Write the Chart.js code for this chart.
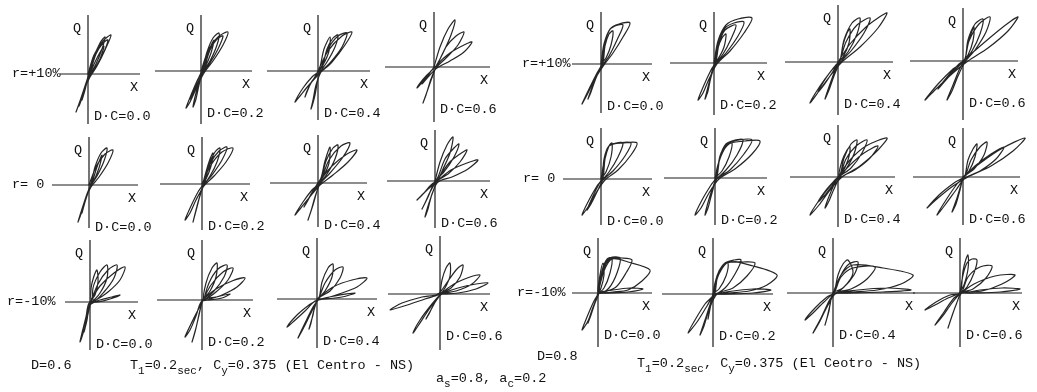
<!DOCTYPE html>
<html lang="en">
<head>
<meta charset="UTF-8">
<title>Hysteresis loops - El Centro NS</title>
<script src="https://cdn.jsdelivr.net/npm/chart.js"></script>
<style>
    * { margin: 0; padding: 0; box-sizing: border-box; }
    body {
        width: 1037px;
        height: 392px;
        overflow: hidden;
        background: #ffffff;
        position: relative;
        font-family: 'Liberation Mono', 'DejaVu Sans Mono', monospace;
        font-size: 13.5px;
        color: #111;
    }
    .panel { position: absolute; }
    .txt { position: absolute; line-height: 13px; white-space: pre; }
    sub { font-size: 11px; vertical-align: -5px; line-height: 0; }
</style>
</head>
<body>
<script>
// labels
const dcLabels = ['D\u00B7C=0.0', 'D\u00B7C=0.2', 'D\u00B7C=0.4', 'D\u00B7C=0.6'];
const rLabels = ['r=+10%', 'r= 0', 'r=-10%'];

// loop paths: [X, Q] pairs (X right, Q up), origin at the axes crossing
// D=0.6, r=+10%
const d06_p10_c0 = [[0,0],[6,19],[15,33],[23,39],[17,24],[9,8],[2,-3],[-4,-16],[-9,-30],[-12,-38],[-8,-27],[-3,-12],[1,0],
    [6,17],[12,31],[17,37],[14,25],[8,10],[2,-1],[-3,-13],[-7,-25],[-9,-32],[-5,-21],[-1,-8],[2,1],
    [8,20],[15,31],[20,34],[15,20],[8,7],[1,-2],[-3,-12],[-6,-26],[-3,-16],[0,-4],[3,3],[10,18],[16,28],[12,15],[5,3],[0,0]];
const d06_p10_c2 = [[0,0],[7,20],[17,34],[27,39],[22,26],[12,10],[3,-2],[-5,-18],[-11,-31],[-15,-37],[-10,-24],[-4,-10],[1,0],
    [6,19],[12,33],[18,38],[16,26],[9,10],[2,-1],[-2,-14],[-5,-28],[-8,-36],[-5,-22],[-1,-8],[3,2],
    [9,21],[16,32],[22,35],[17,22],[9,8],[1,-3],[-5,-16],[-11,-28],[-7,-18],[-2,-6],[2,2],[7,18],[13,31],[10,18],[4,4],[0,0]];
const d06_p10_c4 = [[0,0],[10,20],[24,35],[34,39],[27,26],[14,9],[2,-2],[-9,-14],[-18,-25],[-23,-31],[-15,-17],[-6,-6],[2,1],
    [10,22],[20,35],[29,38],[24,24],[12,8],[3,-1],[-2,-14],[-5,-29],[-7,-38],[-3,-24],[0,-8],[4,2],
    [9,22],[15,33],[20,36],[17,24],[9,9],[1,-2],[-6,-10],[-11,-20],[-13,-26],[-8,-14],[-2,-4],[2,4],[6,22],[12,34],[11,20],[5,6],[0,0]];
const d06_p10_c6 = [[0,0],[6,20],[14,38],[21,47],[17,32],[9,14],[2,1],[-7,-8],[-14,-16],[-17,-21],[-10,-13],[-3,-4],[3,2],
    [12,20],[22,31],[30,35],[24,22],[12,9],[2,-1],[-3,-12],[-8,-28],[-11,-36],[-6,-22],[-1,-8],[4,3],
    [16,14],[30,22],[38,25],[30,15],[16,6],[3,-1],[-6,-10],[-12,-17],[-5,-7],[0,0]];
// D=0.6, r=0
const d06_z_c0 = [[0,0],[7,18],[16,31],[24,35],[19,22],[10,8],[2,-2],[-4,-15],[-8,-29],[-11,-37],[-7,-24],[-2,-9],[2,1],
    [6,18],[12,32],[18,37],[15,24],[8,9],[1,-2],[-3,-13],[-7,-28],[-4,-17],[0,-5],[3,2],[8,18],[13,30],[10,17],[4,3],[0,0]];
const d06_z_c2 = [[0,0],[9,19],[20,32],[31,36],[24,22],[12,8],[2,-2],[-6,-16],[-12,-29],[-17,-36],[-11,-22],[-4,-8],[2,1],
    [8,20],[17,33],[25,37],[20,24],[10,9],[2,-1],[-3,-15],[-7,-30],[-9,-38],[-5,-23],[-1,-8],[3,2],
    [7,19],[13,32],[18,36],[15,22],[8,8],[1,-1],[4,12],[8,25],[11,31],[9,18],[4,5],[0,0]];
const d06_z_c4 = [[0,0],[14,17],[29,29],[39,33],[30,21],[15,8],[2,-2],[-9,-15],[-18,-26],[-23,-32],[-15,-19],[-6,-7],[2,1],
    [11,23],[23,37],[32,40],[25,26],[12,10],[2,-1],[-3,-14],[-7,-28],[-10,-37],[-5,-22],[-1,-8],[3,2],
    [8,22],[15,35],[20,38],[17,24],[9,9],[1,-1],[-6,-10],[-11,-19],[-14,-24],[-8,-13],[-2,-3],[3,5],[7,22],[12,36],[11,20],[5,6],[0,0]];
const d06_z_c6 = [[0,0],[5,19],[12,36],[18,44],[15,28],[8,12],[2,0],[-7,-8],[-14,-15],[-18,-19],[-11,-12],[-4,-4],[3,1],
    [16,11],[32,18],[43,21],[33,12],[17,4],[3,-1],[-3,-13],[-7,-28],[-10,-36],[-6,-22],[-1,-8],[4,3],
    [14,18],[25,27],[32,31],[25,19],[13,7],[2,0],[-5,-11],[-10,-22],[-13,-28],[-7,-16],[-2,-4],[3,4],[10,22],[19,33],[24,37],[19,24],[9,9],[0,0]];
// D=0.6, r=-10%
const d06_m10_c0 = [[0,0],[10,16],[24,29],[35,35],[30,22],[18,10],[6,2],[-1,-1],[-4,-15],[-8,-31],[-10,-40],[-6,-28],[-2,-12],[1,0],
    [8,18],[18,32],[27,37],[24,24],[14,10],[4,1],[3,14],[10,30],[17,37],[17,24],[10,9],[2,1],
    [1,13],[4,26],[7,32],[8,20],[5,7],[0,0],[-3,-14],[-6,-30],[-3,-18],[0,-3],[10,2],[22,5],[30,7],[20,3],[8,0],[0,0]];
const d06_m10_c2 = [[0,0],[14,11],[30,19],[43,22],[35,13],[20,5],[5,0],[-1,-2],[-6,-16],[-12,-30],[-17,-37],[-11,-24],[-4,-10],[1,0],
    [9,15],[21,28],[31,32],[26,20],[14,8],[3,1],[7,17],[16,31],[25,35],[22,23],[12,9],[2,1],
    [4,17],[10,32],[15,37],[14,23],[8,9],[1,0],[-3,-15],[-7,-32],[-10,-42],[-6,-28],[-2,-10],[1,0],[14,3],[28,6],[20,2],[6,0],[0,0]];
const d06_m10_c4 = [[0,0],[16,12],[35,19],[50,21],[40,12],[22,5],[6,0],[-2,-2],[-12,-12],[-24,-23],[-30,-28],[-20,-16],[-8,-6],[1,0],
    [8,16],[18,29],[26,32],[23,21],[13,8],[2,1],[-6,-14],[-14,-30],[-19,-39],[-12,-24],[-4,-8],[2,1],
    [5,17],[11,31],[16,35],[15,22],[8,8],[1,0],[-3,-11],[-6,-24],[-8,-30],[-4,-16],[0,-2],[18,3],[38,6],[25,2],[8,0],[0,0]];
const d06_m10_c6 = [[0,0],[2,14],[6,26],[10,31],[10,18],[5,6],[0,0],[-15,-5],[-36,-12],[-50,-16],[-38,-9],[-18,-3],[-2,0],
    [8,13],[17,25],[23,29],[20,17],[11,6],[1,0],[-10,-14],[-22,-32],[-27,-39],[-20,-26],[-8,-10],[1,0],
    [14,10],[30,17],[40,19],[32,10],[16,3],[2,0],[-6,-10],[-11,-20],[-14,-25],[-8,-14],[-2,-3],[1,0],[18,6],[36,10],[48,11],[36,5],[18,1],[0,0]];

// D=0.8, r=+10%
const d08_p10_c0 = [[0,0],[3,20],[9,35],[18,40],[29,41],[22,27],[12,11],[3,-1],[-6,-15],[-14,-31],[-19,-40],[-12,-25],[-4,-9],[1,0],
    [3,18],[8,33],[14,38],[22,39],[16,24],[8,8],[1,-2],[-5,-14],[-10,-28],[-13,-35],[-8,-21],[-2,-6],[2,1],
    [4,18],[8,30],[12,33],[10,19],[5,6],[0,0]];
const d08_p10_c2 = [[0,0],[4,22],[12,38],[24,44],[38,45],[30,30],[16,12],[3,-1],[-5,-16],[-11,-30],[-16,-37],[-10,-22],[-3,-7],[1,0],
    [4,20],[11,35],[20,40],[30,41],[24,27],[12,10],[2,-1],[-3,-14],[-6,-28],[-9,-36],[-5,-20],[-1,-5],[2,1],
    [5,19],[11,33],[22,38],[17,24],[9,9],[1,0],[4,15],[8,25],[12,29],[10,16],[4,4],[0,0]];
const d08_p10_c4 = [[0,0],[12,18],[28,35],[40,44],[49,49],[40,34],[22,15],[4,0],[-8,-14],[-19,-29],[-28,-41],[-18,-24],[-7,-9],[1,0],
    [8,20],[19,37],[32,44],[26,29],[13,11],[2,-1],[-4,-14],[-9,-28],[-13,-37],[-8,-22],[-2,-6],[2,1],
    [6,22],[14,39],[22,44],[19,28],[10,10],[1,0],[-6,-11],[-14,-23],[-20,-30],[-12,-16],[-3,-4],[2,2],[5,17],[9,29],[12,33],[11,19],[5,5],[0,0]];
const d08_p10_c6 = [[0,0],[16,14],[35,30],[48,40],[55,44],[45,30],[25,13],[5,0],[-10,-12],[-26,-27],[-38,-39],[-25,-23],[-10,-8],[1,0],
    [6,20],[16,37],[27,44],[23,29],[12,11],[2,-1],[-5,-15],[-11,-30],[-16,-39],[-10,-24],[-3,-7],[2,1],
    [5,21],[12,37],[20,42],[17,27],[9,10],[1,0],[-8,-9],[-18,-20],[-25,-28],[-15,-15],[-4,-3],[2,2],[5,19],[9,30],[11,34],[10,20],[5,6],[0,0]];
// D=0.8, r=0
const d08_z_c0 = [[0,0],[4,22],[9,34],[22,36],[36,36],[30,24],[17,9],[4,-1],[-5,-14],[-13,-28],[-19,-36],[-12,-21],[-4,-7],[1,0],
    [3,20],[8,33],[18,36],[30,36],[24,23],[12,8],[2,-1],[-4,-13],[-10,-25],[-14,-31],[-8,-17],[-2,-5],[2,1],
    [4,20],[8,33],[15,36],[22,36],[17,22],[8,7],[1,0],[4,20],[8,33],[11,36],[10,22],[5,7],[0,0]];
const d08_z_c2 = [[0,0],[6,22],[14,34],[30,37],[45,37],[37,24],[20,9],[4,-1],[-6,-15],[-14,-30],[-20,-37],[-13,-22],[-4,-7],[1,0],
    [5,22],[12,34],[24,38],[37,38],[29,24],[15,8],[2,-1],[-3,-15],[-7,-30],[-10,-37],[-6,-21],[-1,-6],[2,1],
    [5,21],[11,34],[20,38],[28,38],[22,23],[11,8],[1,0],[5,20],[11,32],[17,35],[14,21],[7,7],[0,0]];
const d08_z_c4 = [[0,0],[12,17],[28,31],[49,39],[40,27],[22,11],[4,0],[-8,-13],[-19,-28],[-28,-38],[-18,-22],[-7,-8],[1,0],
    [12,12],[26,24],[40,31],[32,19],[17,7],[2,-1],[-4,-12],[-9,-24],[-13,-31],[-8,-17],[-2,-4],[2,1],
    [8,18],[18,31],[29,37],[24,24],[13,9],[1,0],[-6,-9],[-14,-19],[-20,-25],[-12,-13],[-3,-3],[2,2],
    [6,19],[13,33],[19,37],[16,23],[8,8],[1,0],[4,16],[9,27],[12,30],[10,17],[4,4],[0,0]];
const d08_z_c6 = [[0,0],[16,13],[38,28],[62,39],[50,26],[28,11],[5,0],[-10,-9],[-25,-21],[-36,-31],[-24,-18],[-9,-6],[1,0],
    [12,11],[28,23],[41,30],[33,18],[17,6],[2,-1],[-7,-13],[-18,-28],[-26,-38],[-17,-23],[-6,-7],[2,1],
    [8,17],[17,30],[24,35],[21,22],[11,8],[1,0],[-3,-13],[-7,-27],[-11,-35],[-6,-21],[-1,-5],[2,1],[5,17],[10,28],[14,33],[12,20],[6,6],[0,0]];
// D=0.8, r=-10%
const d08_m10_c0 = [[0,0],[6,22],[14,34],[30,31],[52,23],[44,12],[30,3],[15,1],[2,0],[0,0],[5,22],[12,34],[24,35],[34,33],[28,20],[18,6],[6,1],
    [1,0],[5,24],[12,35],[22,35],[19,20],[11,5],[2,0],[4,22],[9,34],[14,35],[12,20],[6,5],[0,0],[2,18],[5,30],[6,18],[3,5],
    [-4,-12],[-10,-28],[-16,-37],[-11,-24],[-4,-8],[1,0],[-3,-10],[-7,-22],[-10,-30],[-6,-17],[-1,-4],
    [0,0],[15,3],[32,5],[45,4],[30,1],[14,0],[0,0]];
const d08_m10_c2 = [[0,0],[6,20],[16,32],[40,28],[64,19],[54,9],[36,3],[16,1],[2,0],[-6,-12],[-16,-28],[-25,-39],[-18,-26],[-8,-10],[1,0],
    [5,20],[14,31],[30,32],[42,31],[34,18],[20,6],[4,0],[-4,-16],[-9,-32],[-13,-41],[-8,-26],[-2,-8],[2,1],
    [5,20],[12,31],[21,34],[28,34],[22,20],[12,6],[1,0],[4,18],[10,29],[15,31],[13,18],[6,5],[0,0],
    [-2,-10],[-5,-25],[-3,-14],[0,-2],[20,3],[40,5],[58,4],[40,1],[18,0],[0,0]];
const d08_m10_c4 = [[0,0],[8,18],[20,28],[50,25],[80,18],[68,9],[44,3],[20,1],[2,0],[-9,-9],[-20,-20],[-28,-27],[-18,-15],[-6,-4],[1,0],
    [8,16],[20,25],[42,26],[34,14],[18,4],[3,0],[-6,-14],[-14,-30],[-20,-40],[-12,-25],[-4,-8],[1,0],
    [5,18],[10,29],[15,33],[20,20],[11,6],[1,0],[8,18],[16,29],[25,31],[21,18],[10,5],[0,0],
    [-3,-12],[-6,-25],[-8,-32],[-4,-18],[0,-2],[25,3],[55,5],[78,3],[50,1],[20,0],[0,0]];
const d08_m10_c6 = [[0,0],[3,18],[7,30],[12,34],[17,33],[14,20],[7,6],[0,0],[-12,-5],[-25,-12],[-35,-17],[-24,-9],[-10,-2],[1,0],
    [8,16],[20,26],[32,27],[26,15],[13,4],[1,0],[-8,-10],[-18,-24],[-25,-32],[-16,-19],[-6,-5],[1,0],
    [14,9],[35,17],[55,18],[42,9],[22,2],[2,0],[-4,-12],[-9,-26],[-12,-35],[-7,-20],[-1,-4],[1,1],
    [3,22],[6,34],[8,38],[8,24],[4,8],[0,0],[20,3],[42,5],[60,4],[40,1],[15,0],[0,0]];

const groupD06 = [
    [d06_p10_c0, d06_p10_c2, d06_p10_c4, d06_p10_c6],
    [d06_z_c0, d06_z_c2, d06_z_c4, d06_z_c6],
    [d06_m10_c0, d06_m10_c2, d06_m10_c4, d06_m10_c6]
];
const groupD08 = [
    [d08_p10_c0, d08_p10_c2, d08_p10_c4, d08_p10_c6],
    [d08_z_c0, d08_z_c2, d08_z_c4, d08_z_c6],
    [d08_m10_c0, d08_m10_c2, d08_m10_c4, d08_m10_c6]
];

// page layout of each little panel: origin x, origin y, x-axis left end, right end, Q-axis top, bottom
const frameD06 = [
    [[88,74,60,140,15,124], [201,71,155,252,15,124], [318,71,267,370,15,120], [434,67,385,490,12,122]],
    [[89,185,52,138,137,228], [202,184,160,250,137,230], [318,183,270,367,135,227], [435,181,387,490,130,228]],
    [[90,302,65,138,240,350], [202,300,157,253,240,350], [317,299,277,377,238,348], [440,294,388,490,236,350]]
];
const frameD08 = [
    [[601,64,572,652,12,113], [714,63,670,767,12,115], [838,62,785,893,5,115], [963,61,910,1018,8,120]],
    [[601,179,563,652,128,225], [715,178,664,767,128,225], [838,177,790,895,125,227], [963,177,913,1020,128,225]],
    [[598,293,572,652,238,347], [713,294,662,773,238,347], [833,293,787,915,238,347], [960,293,913,1022,238,347]]
];
const rLabelX = [[12, 12, 7], [522, 523, 517]];

const BOX_L = 60, BOX_R = 90, BOX_U = 62, BOX_D = 62;

const axisCross = {
    id: 'axisCross',
    beforeDatasetsDraw(chart, args, opts) {
        const { ctx, scales: { x, y } } = chart;
        const x0 = x.getPixelForValue(0);
        const y0 = y.getPixelForValue(0);
        ctx.save();
        ctx.strokeStyle = '#1c1c1c';
        ctx.lineWidth = 1.2;
        ctx.beginPath();
        ctx.moveTo(x.getPixelForValue(-opts.left), y0);
        ctx.lineTo(x.getPixelForValue(opts.right), y0);
        ctx.moveTo(x0, y.getPixelForValue(opts.up));
        ctx.lineTo(x0, y.getPixelForValue(-opts.down));
        ctx.stroke();
        ctx.restore();
    }
};

function addText(html, left, top) {
    const d = document.createElement('div');
    d.className = 'txt';
    d.style.left = left + 'px';
    d.style.top = top + 'px';
    d.innerHTML = html;
    document.body.appendChild(d);
    return d;
}

function drawPanel(points, f, dc) {
    const [ox, oy, hl, hr, vt, vb] = f;
    const w = BOX_L + BOX_R, h = BOX_U + BOX_D;
    const box = document.createElement('div');
    box.className = 'panel';
    box.style.left = (ox - BOX_L) + 'px';
    box.style.top = (oy - BOX_U) + 'px';
    box.style.width = w + 'px';
    box.style.height = h + 'px';
    const cv = document.createElement('canvas');
    cv.width = w;
    cv.height = h;
    box.appendChild(cv);
    document.body.appendChild(box);

    new Chart(cv, {
        type: 'scatter',
        data: {
            datasets: [{
                data: points.map(p => ({ x: p[0], y: p[1] })),
                showLine: true,
                borderColor: '#262626',
                borderWidth: 1.2,
                pointRadius: 0,
                tension: 0.3,
                fill: false
            }]
        },
        options: {
            responsive: false,
            animation: false,
            events: [],
            layout: { padding: 0 },
            scales: {
                x: { type: 'linear', display: false, min: -BOX_L, max: BOX_R },
                y: { type: 'linear', display: false, min: -BOX_D, max: BOX_U }
            },
            plugins: {
                legend: { display: false },
                tooltip: { enabled: false },
                axisCross: { left: ox - hl, right: hr - ox, up: oy - vt, down: vb - oy }
            }
        },
        plugins: [axisCross]
    });

    addText('Q', ox - 15, vt + 7);
    addText('X', hr - 10, oy + 7);
    addText(dcLabels[dc], ox + 6, oy + 36);
}

function drawGroup(group, frames, g) {
    for (let r = 0; r < 3; r++) {
        for (let c = 0; c < 4; c++) {
            drawPanel(group[r][c], frames[r][c], c);
        }
        addText(rLabels[r], rLabelX[g][r], frames[r][0][1] - 7);
    }
}

drawGroup(groupD06, frameD06, 0);
drawGroup(groupD08, frameD08, 1);

// captions
addText('D=0.6', 31, 359);
addText('T<sub>1</sub>=0.2<sub>sec</sub>, C<sub>y</sub>=0.375 (El Centro - NS)', 130, 359);
addText('a<sub>s</sub>=0.8, a<sub>c</sub>=0.2', 436, 372);
addText('D=0.8', 537, 350);
addText('T<sub>1</sub>=0.2<sub>sec</sub>, C<sub>y</sub>=0.375 (El Ceotro - NS)', 637, 357);
</script>
</body>
</html>
